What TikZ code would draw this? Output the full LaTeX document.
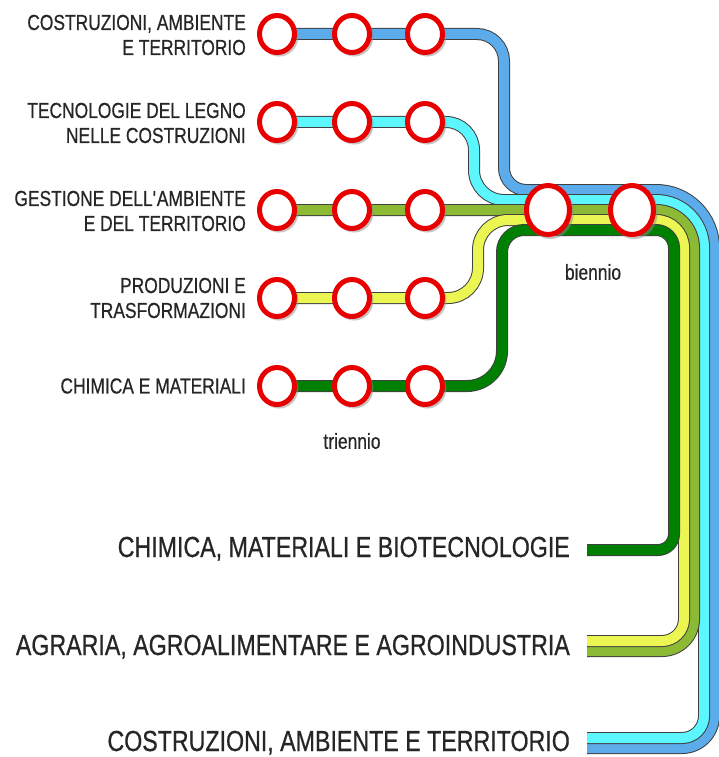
\documentclass[tikz,border=0pt]{standalone}
\usepackage{fontspec}
\newfontfamily\lblfont[FakeStretch=0.8, FakeBold=0.6]{Liberation Sans}
\usetikzlibrary{positioning,shapes.geometric,shadows,backgrounds}
\definecolor{lineablu}{RGB}{92,172,235}
\definecolor{lineaciano}{RGB}{92,246,255}
\definecolor{lineaoliva}{RGB}{140,186,52}
\definecolor{lineagialla}{RGB}{236,246,82}
\definecolor{lineaverde}{RGB}{0,128,0}
\definecolor{rosso}{RGB}{232,0,0}
\tikzset{
  stazione/.style={
    ellipse,
    draw=rosso, line width=5pt,
    fill=white,
    minimum width=35pt,
    minimum height=37pt,
    inner sep=0pt,
    drop shadow={shadow xshift=2pt, shadow yshift=-2pt, shadow scale=1.1, fill=black!45}},
  grande/.style={stazione, minimum width=43pt, minimum height=49pt},
  binario/.style={draw=black!75, line width=1pt, double distance=10pt},
  etichetta/.style={font=\lblfont\fontsize{21.75}{25}\selectfont, align=right, inner sep=0pt, text=black!85},
  titolo/.style={font=\lblfont\fontsize{29}{32}\selectfont, inner sep=0pt, anchor=base east, text=black!85},
}
\begin{document}
\begin{tikzpicture}[x=1pt, y=-1pt]
    \useasboundingbox (0,0) rectangle (718,757);

    % fermate del triennio
    \foreach \r/\y in {1/34,2/122,3/210,4/298,5/386} {
        \node[stazione] (t\r1) at (277,\y) {};
        \node[stazione] (t\r2) at (352,\y) {};
        \node[stazione] (t\r3) at (425,\y) {};
    }

    % fermate del biennio
    \node[grande] (b1) at (548,210) {};
    \node[grande] (b2) at (632,210) {};

    % capolinea
    \coordinate (endG) at (587,550);
    \coordinate (endY) at (587,641);
    \coordinate (endO) at (587,651);
    \coordinate (endC) at (587,738);
    \coordinate (endB) at (587,748);

    \begin{scope}[on background layer]
        \draw[binario, double=lineablu] (t11.center) -- (t12.center) -- (t13.center)
            [rounded corners=27pt] -- (504,34)
            [rounded corners=22pt] -- (504,190)
            [rounded corners=58pt] -- (714,190)
            [rounded corners=32pt] -- (714,748)
            [sharp corners] -- (endB);
        \draw[binario, double=lineaciano] (t21.center) -- (t22.center) -- (t23.center)
            [rounded corners=28pt] -- (474,122)
            [rounded corners=30pt] -- (474,200)
            [rounded corners=48pt] -- (704,200)
            [rounded corners=22pt] -- (704,738)
            [sharp corners] -- (endC);
        \draw[binario, double=lineaoliva] (t31.center) -- (t32.center) -- (t33.center)
            -- (b1.center) -- (b2.center)
            [rounded corners=38pt] -- (694,210)
            [rounded corners=32pt] -- (694,651)
            [sharp corners] -- (endO);
        \draw[binario, double=lineagialla] (t41.center) -- (t42.center) -- (t43.center)
            [rounded corners=30pt] -- (478,298)
            [rounded corners=30pt] -- (478,220)
            [rounded corners=28pt] -- (684,220)
            [rounded corners=22pt] -- (684,641)
            [sharp corners] -- (endY);
        \draw[binario, double=lineaverde] (t51.center) -- (t52.center) -- (t53.center)
            [rounded corners=35pt] -- (502,386)
            [rounded corners=22pt] -- (502,230)
            [rounded corners=18pt] -- (674,230)
            [rounded corners=16pt] -- (674,550)
            [sharp corners] -- (endG);
    \end{scope}

    % indirizzi
    \node[etichetta, left=11pt of t11, yshift=-1pt] (lbl1) {COSTRUZIONI, AMBIENTE\\E TERRITORIO};
    \node[etichetta, left=11pt of t21, yshift=-1pt] (lbl2) {TECNOLOGIE DEL LEGNO\\NELLE COSTRUZIONI};
    \node[etichetta, left=11pt of t31, yshift=-1pt] (lbl3) {GESTIONE DELL\textquotesingle AMBIENTE\\E DEL TERRITORIO};
    \node[etichetta, left=11pt of t41] (lbl4) {PRODUZIONI E\\TRASFORMAZIONI};
    \node[etichetta, left=11pt of t51] (lbl5) {CHIMICA E MATERIALI};

    \node[etichetta] (trien) at (352,441) {triennio};
    \node[etichetta] (bien) at (593,272) {biennio};

    % articolazioni
    \node[titolo] (artG) at (570,557) {CHIMICA, MATERIALI E BIOTECNOLOGIE};
    \node[titolo] (artY) at (570,655) {AGRARIA, AGROALIMENTARE E AGROINDUSTRIA};
    \node[titolo] (artC) at (570,751) {COSTRUZIONI, AMBIENTE E TERRITORIO};
\end{tikzpicture}
\end{document}
